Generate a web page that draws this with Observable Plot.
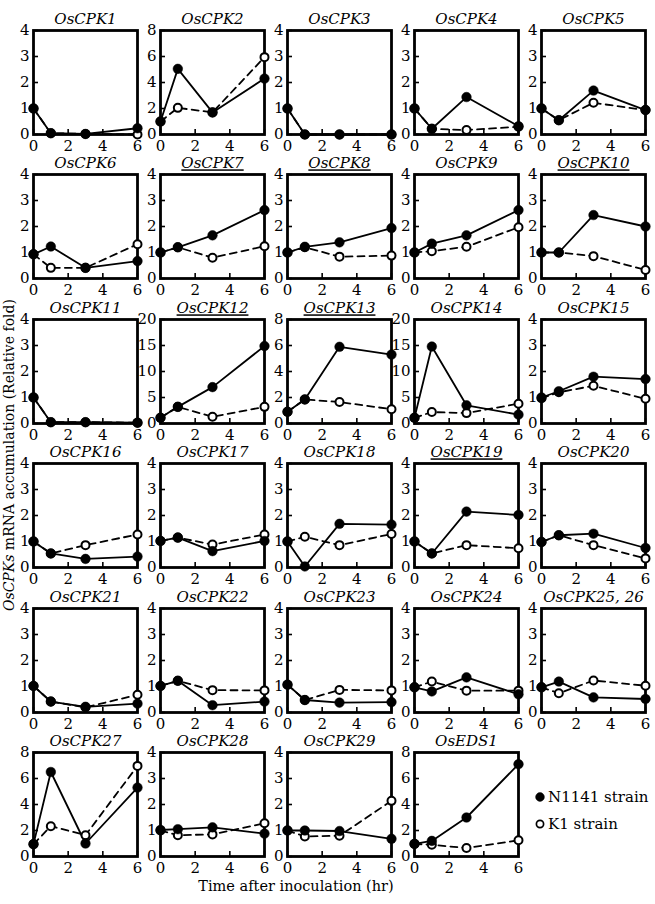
<!DOCTYPE html>
<html><head><meta charset="utf-8">
<script src="https://cdn.jsdelivr.net/npm/d3@7"></script>
<script src="https://cdn.jsdelivr.net/npm/@observablehq/plot@0.6"></script>
<style>
html,body{margin:0;padding:0;background:#fff;}
#root{position:relative;width:655px;height:904px;font-family:"DejaVu Serif",serif;color:#000;overflow:hidden;}
.panel{position:absolute;}
.ytitle{position:absolute;white-space:nowrap;font-size:14px;transform:translate(-50%,-50%) rotate(-90deg);}
.xtitle{position:absolute;white-space:nowrap;font-size:14.5px;transform:translate(-50%,-50%);}
.legend{position:absolute;font-size:15px;}
.legend div{display:flex;align-items:center;height:27px;white-space:nowrap;}
.legend svg{margin-right:2px;}
</style></head><body><div id="root"></div>
<script>
// ---- data ----
const times = [0, 1, 3, 6];
const xTicks = [0, 2, 4, 6];
const genes = ["OsCPK1","OsCPK2","OsCPK3","OsCPK4","OsCPK5",
  "OsCPK6","OsCPK7","OsCPK8","OsCPK9","OsCPK10",
  "OsCPK11","OsCPK12","OsCPK13","OsCPK14","OsCPK15",
  "OsCPK16","OsCPK17","OsCPK18","OsCPK19","OsCPK20",
  "OsCPK21","OsCPK22","OsCPK23","OsCPK24","OsCPK25, 26",
  "OsCPK27","OsCPK28","OsCPK29","OsEDS1"];
const underlined = ["OsCPK7","OsCPK8","OsCPK10","OsCPK12","OsCPK13","OsCPK19"];
const yMax = [4,8,4,4,4, 4,4,4,4,4, 4,20,8,20,4, 4,4,4,4,4, 4,4,4,4,4, 8,4,4,8];
const yTicks4 = [0,1,2,3,4];
const yTicks8 = [0,2,4,6,8];
const yTicks20 = [0,5,10,15,20];
const seriesNames = ["N1141 strain", "K1 strain"];
// N1141 strain (filled circles, solid line)
const n1141 = [
  [1, 0.05, 0.02, 0.24], [1, 5.05, 1.7, 4.3], [1, 0, 0, 0], [1, 0.22, 1.44, 0.32], [1, 0.55, 1.69, 0.94],
  [0.93, 1.23, 0.41, 0.67], [1, 1.2, 1.66, 2.63], [1, 1.22, 1.39, 1.94], [1, 1.34, 1.66, 2.63], [1, 1, 2.44, 2.0],
  [1, 0.05, 0.05, 0.03], [1.1, 3.2, 7.0, 14.9], [0.9, 1.85, 5.9, 5.3], [1.1, 14.8, 3.5, 1.7], [1, 1.24, 1.8, 1.71],
  [1, 0.54, 0.33, 0.42], [1.02, 1.15, 0.63, 1.02], [1, 0.04, 1.68, 1.65], [1, 0.54, 2.15, 2.02], [0.98, 1.24, 1.3, 0.75],
  [1.02, 0.42, 0.22, 0.34], [1.02, 1.22, 0.28, 0.42], [1.07, 0.48, 0.38, 0.4], [0.97, 0.81, 1.35, 0.7], [0.97, 1.19, 0.58, 0.52],
  [0.95, 6.5, 1.0, 5.3], [1.02, 1.05, 1.12, 0.88], [1, 1, 0.98, 0.68], [0.97, 1.2, 3.0, 7.1]
];
// K1 strain (open circles, dashed line)
const k1 = [
  [1, 0.05, 0.02, 0], [1, 2.05, 1.7, 5.95], [1, 0, 0, 0], [1, 0.22, 0.17, 0.3], [1, 0.55, 1.22, 0.94],
  [0.93, 0.41, 0.41, 1.32], [1, 1.2, 0.8, 1.24], [1, 1.2, 0.84, 0.88], [1, 1.05, 1.22, 1.97], [1, 1, 0.86, 0.33],
  [1, 0.05, 0.05, 0.03], [1.1, 3.2, 1.3, 3.2], [0.9, 1.85, 1.65, 1.1], [1.1, 2.2, 2.0, 3.8], [0.97, 1.2, 1.45, 0.95],
  [1, 0.54, 0.86, 1.27], [1.02, 1.15, 0.88, 1.27], [1, 1.18, 0.86, 1.29], [1, 0.54, 0.86, 0.74], [0.98, 1.24, 0.86, 0.35],
  [1.02, 0.42, 0.2, 0.68], [1.02, 1.22, 0.86, 0.85], [1.07, 0.48, 0.87, 0.85], [0.97, 1.19, 0.84, 0.84], [0.97, 0.74, 1.23, 1.03],
  [0.95, 2.33, 1.64, 6.97], [1.0, 0.82, 0.85, 1.28], [1, 0.77, 0.8, 2.14], [0.97, 0.9, 0.65, 1.25]
];

// ---- layout ----
const root = document.getElementById("root");
const FW = 104, FH = 104;           // frame size
const X0 = 32.5, Y0 = 29.5;         // first frame origin
const PX = 127.2, PY = 144.5;       // pitch
const mL = 28, mR = 8, mT = 24, mB = 22;
const font = "DejaVu Serif";
const fmt = d => String(d);

genes.forEach((g, i) => {
  const col = i % 5, row = Math.floor(i / 5);
  const ymax = yMax[i];
  const yt = ymax === 4 ? yTicks4 : ymax === 8 ? yTicks8 : yTicks20;
  const nd = times.map((t, j) => ({t, v: n1141[i][j]}));
  const kd = times.map((t, j) => ({t, v: k1[i][j]}));
  const svg = Plot.plot({
    width: mL + FW + mR, height: mT + FH + mB,
    marginLeft: mL, marginRight: mR, marginTop: mT, marginBottom: mB,
    style: {fontFamily: font, fontSize: "15px", background: "transparent", color: "#000", overflow: "visible"},
    x: {domain: [0, 6]},
    y: {domain: [0, ymax]},
    marks: [
      Plot.tickX(xTicks, {x: d => d, insetTop: FH - 5, stroke: "#000", strokeWidth: 1.6}),
      Plot.tickY(yt, {y: d => d, insetRight: FW - 5, stroke: "#000", strokeWidth: 1.6}),
      Plot.axisX({ticks: xTicks, tickFormat: fmt, tickSize: 0, tickPadding: 6, label: null, fontSize: 15}),
      Plot.axisY({ticks: yt, tickFormat: fmt, tickSize: 0, tickPadding: 4, label: null, fontSize: 15}),
      Plot.line(kd, {x: "t", y: "v", stroke: "#000", strokeWidth: 1.8, strokeDasharray: "7,5"}),
      Plot.line(nd, {x: "t", y: "v", stroke: "#000", strokeWidth: 1.8}),
      Plot.frame({stroke: "#000", strokeWidth: 2.8}),
      Plot.dot(kd, {x: "t", y: "v", r: 4, fill: "#fff", stroke: "#000", strokeWidth: 2}),
      Plot.dot(nd, {x: "t", y: "v", r: 4.8, fill: "#000", stroke: "#000", strokeWidth: 0.5}),
      Plot.text([g], {frameAnchor: "top", lineAnchor: "middle", dy: -11, fontStyle: "italic", fontSize: 15, fill: "#000"})
    ]
  });
  if (underlined.includes(g)) {
    svg.querySelectorAll("text").forEach(t => { if (t.textContent === g) t.setAttribute("text-decoration", "underline"); });
  }
  svg.classList.add("panel");
  svg.style.left = (X0 + PX * col - mL) + "px";
  svg.style.top = (Y0 + PY * row - mT) + "px";
  root.appendChild(svg);
});

// y axis title
const ytl = document.createElement("div");
ytl.className = "ytitle";
ytl.innerHTML = "<i>OsCPKs</i> mRNA accumulation (Relative fold)";
ytl.style.left = "9px"; ytl.style.top = "455px";
root.appendChild(ytl);

// x axis title
const xt = document.createElement("div");
xt.className = "xtitle";
xt.textContent = "Time after inoculation (hr)";
xt.style.left = "296px"; xt.style.top = "886px";
root.appendChild(xt);

// legend
const lg = document.createElement("div");
lg.className = "legend";
lg.style.left = "534px"; lg.style.top = "783px";
seriesNames.forEach((s, i) => {
  const row = document.createElement("div");
  row.innerHTML = `<svg width="12" height="12"><circle cx="6" cy="6" r="${i === 0 ? 4.4 : 3.6}" fill="${i === 0 ? "#000" : "#fff"}" stroke="#000" stroke-width="${i === 0 ? 0.5 : 1.7}"/></svg><span>${s}</span>`;
  lg.appendChild(row);
});
root.appendChild(lg);
</script>
</body></html>
